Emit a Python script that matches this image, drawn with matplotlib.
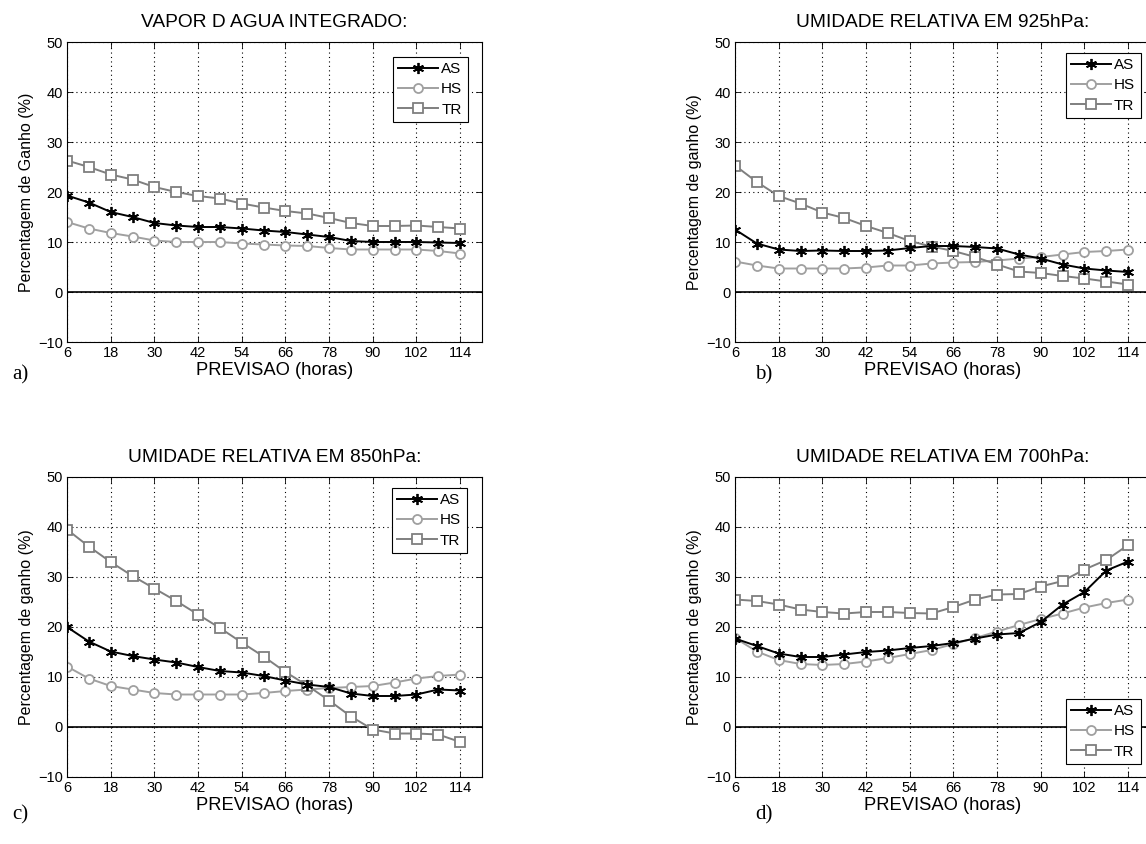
import numpy as np
import matplotlib
matplotlib.use('Agg')
import matplotlib.pyplot as plt

plt.rcParams['font.family'] = ['Liberation Sans', 'DejaVu Sans']
plt.rcParams['axes.linewidth'] = 0.8

# --------------------------
# Data
# --------------------------
horas = [6, 12, 18, 24, 30, 36, 42, 48, 54, 60, 66, 72, 78, 84, 90, 96, 102, 108, 114]

# a) Vapor d'agua integrado
a_as = [19.3, 17.9, 16.0, 15.0, 13.8, 13.3, 13.0, 13.0, 12.7, 12.3, 12.0, 11.5, 11.0, 10.2, 10.0, 10.0, 10.0, 9.9, 9.8]
a_hs = [14.0, 12.7, 11.8, 11.1, 10.3, 10.0, 10.0, 10.0, 9.7, 9.5, 9.3, 9.2, 8.8, 8.5, 8.5, 8.5, 8.5, 8.2, 7.7]
a_tr = [26.3, 25.0, 23.5, 22.5, 21.0, 20.0, 19.2, 18.7, 17.7, 16.9, 16.2, 15.7, 14.8, 13.8, 13.2, 13.2, 13.3, 13.0, 12.7]

# b) Umidade relativa 925hPa
b_as = [12.5, 9.7, 8.5, 8.2, 8.3, 8.2, 8.2, 8.3, 8.8, 9.2, 9.2, 9.0, 8.7, 7.5, 6.7, 5.5, 4.7, 4.3, 4.0]
b_hs = [6.1, 5.3, 4.7, 4.7, 4.7, 4.7, 4.9, 5.3, 5.3, 5.7, 5.9, 6.0, 6.3, 6.7, 7.0, 7.5, 8.0, 8.2, 8.5]
b_tr = [25.3, 22.0, 19.2, 17.7, 15.9, 14.8, 13.2, 11.8, 10.2, 9.1, 8.2, 7.0, 5.5, 4.1, 3.8, 3.2, 2.7, 2.1, 1.5]

# c) Umidade relativa 850hPa
c_as = [20.0, 17.1, 15.1, 14.2, 13.5, 12.9, 12.0, 11.2, 10.9, 10.2, 9.3, 8.5, 8.0, 6.7, 6.2, 6.2, 6.5, 7.5, 7.3]
c_hs = [12.1, 9.7, 8.2, 7.5, 6.8, 6.5, 6.5, 6.5, 6.5, 6.8, 7.2, 7.5, 7.8, 8.0, 8.2, 8.9, 9.7, 10.2, 10.5]
c_tr = [39.5, 36.1, 33.0, 30.2, 27.7, 25.2, 22.5, 19.8, 16.9, 14.1, 11.0, 8.3, 5.3, 2.1, -0.5, -1.3, -1.3, -1.5, -3.0]

# d) Umidade relativa 700hPa
d_as = [17.7, 16.2, 14.7, 14.0, 14.0, 14.5, 15.0, 15.3, 15.8, 16.2, 16.8, 17.7, 18.5, 18.8, 21.0, 24.5, 27.0, 31.3, 33.1]
d_hs = [17.8, 15.1, 13.4, 12.6, 12.4, 12.6, 13.1, 13.8, 14.6, 15.4, 16.6, 17.8, 19.1, 20.4, 21.6, 22.7, 23.9, 24.8, 25.5]
d_tr = [25.5, 25.2, 24.5, 23.5, 23.0, 22.7, 23.0, 23.0, 22.8, 22.7, 24.0, 25.5, 26.5, 26.6, 28.1, 29.2, 31.5, 33.4, 36.4]

titles = ['VAPOR D AGUA INTEGRADO:', 'UMIDADE RELATIVA EM 925hPa:',
          'UMIDADE RELATIVA EM 850hPa:', 'UMIDADE RELATIVA EM 700hPa:']
ylabels = ['Percentagem de Ganho (%)', 'Percentagem de ganho (%)',
           'Percentagem de ganho (%)', 'Percentagem de ganho (%)']
letters = ['a)', 'b)', 'c)', 'd)']
xticks = [6, 18, 30, 42, 54, 66, 78, 90, 102, 114]
yticks = [-10, 0, 10, 20, 30, 40, 50]

series = [(a_as, a_hs, a_tr), (b_as, b_hs, b_tr), (c_as, c_hs, c_tr), (d_as, d_hs, d_tr)]

# --------------------------
# Layout in pixels (figure is 1146 x 844)
# --------------------------
W, H = 1146, 844
# (left, top) of each axes, all 415 x 300 px
axes_pos = [(67, 42), (735, 42), (67, 477), (735, 477)]
legend_pos = [(393, 57), (1066, 53), (392, 488), (1066, 699)]
letter_pos = [(12, 375), (755, 375), (12, 815), (755, 815)]

asterisk = (6, 2, 0)  # matlab-like '*' marker

fig = plt.figure(figsize=(W / 100, H / 100), dpi=100)

for i in range(4):
    left, top = axes_pos[i]
    ax = fig.add_axes([left / W, 1 - (top + 300) / H, 415 / W, 300 / H])
    s_as, s_hs, s_tr = series[i]

    ax.axhline(0, color='black', linewidth=1.2, zorder=1)
    ax.plot(horas, s_as, '-', marker=asterisk, color='black', linewidth=1.4,
            markersize=8, markeredgewidth=1.3, label='AS', zorder=3)
    ax.plot(horas, s_hs, '-o', color='#a0a0a0', linewidth=1.4, markersize=6.5,
            markerfacecolor='white', markeredgewidth=1.3, label='HS', zorder=2)
    ax.plot(horas, s_tr, '-s', color='#7f7f7f', linewidth=1.4, markersize=6.5,
            markerfacecolor='white', markeredgewidth=1.3, label='TR', zorder=2)

    ax.set_xlim(6, 120)
    ax.set_ylim(-10, 50)
    ax.set_xticks(xticks)
    ax.set_yticks(yticks)
    ax.tick_params(direction='in', top=True, right=True, length=4, width=0.6,
                   labelsize=10.5, pad=3)
    ax.grid(True, linestyle=(0, (1, 3)), color='black', linewidth=0.8)

    ax.set_title(titles[i], fontsize=13.8, pad=11)
    ax.set_xlabel('PREVISAO (horas)', fontsize=13.2, labelpad=1.5)
    ax.set_ylabel(ylabels[i], fontsize=11.5, labelpad=3)

    lx, ly = legend_pos[i]
    leg = ax.legend(loc='upper left', bbox_to_anchor=(lx / W, 1 - ly / H),
                    bbox_transform=fig.transFigure, fontsize=11, fancybox=False,
                    framealpha=1, edgecolor='black', handlelength=2.6,
                    handletextpad=0.2, borderpad=0.35, labelspacing=0.4,
                    borderaxespad=0)
    leg.get_frame().set_linewidth(0.8)

    tx, ty = letter_pos[i]
    fig.text(tx / W, 1 - ty / H, letters[i], fontsize=15,
             family='Liberation Serif', va='center', ha='left')

plt.savefig('out.png', dpi=100, facecolor='white')
